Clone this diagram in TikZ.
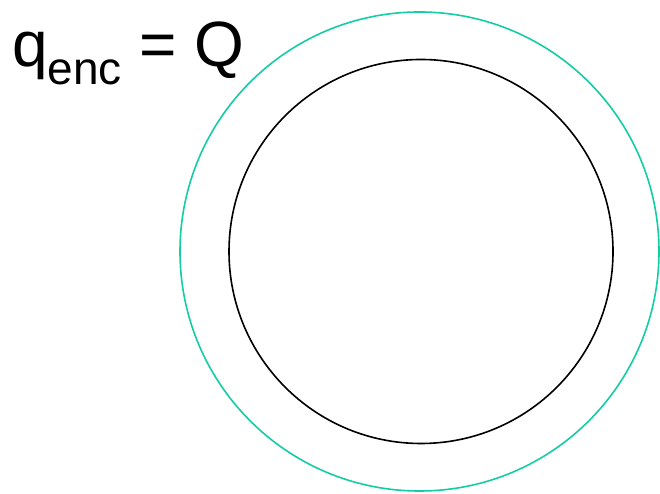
\documentclass[tikz,border=0pt]{standalone}
\usepackage{fontspec}
\setmainfont{Liberation Sans}
\definecolor{shellgreen}{RGB}{20,205,165}
\begin{document}
\begin{tikzpicture}[x=1pt,y=1pt,
  ring/.style={line width=1.6pt}]
\useasboundingbox (0,0) rectangle (660,494);
\fill[white] (0,0) rectangle (660,494);
\node[ring, draw=shellgreen, circle, minimum size=479pt, inner sep=0pt] (outer) at (419.5,242.5) {};
\node[ring, draw=black, circle, minimum size=384pt, inner sep=0pt] (inner) at (421,242.5) {};
\node[anchor=base west, inner sep=0pt] (label) at (12,427)
  {\fontsize{64}{77}\selectfont q\raisebox{-18pt}{\fontsize{46}{55}\selectfont enc} = Q};
\end{tikzpicture}
\end{document}
